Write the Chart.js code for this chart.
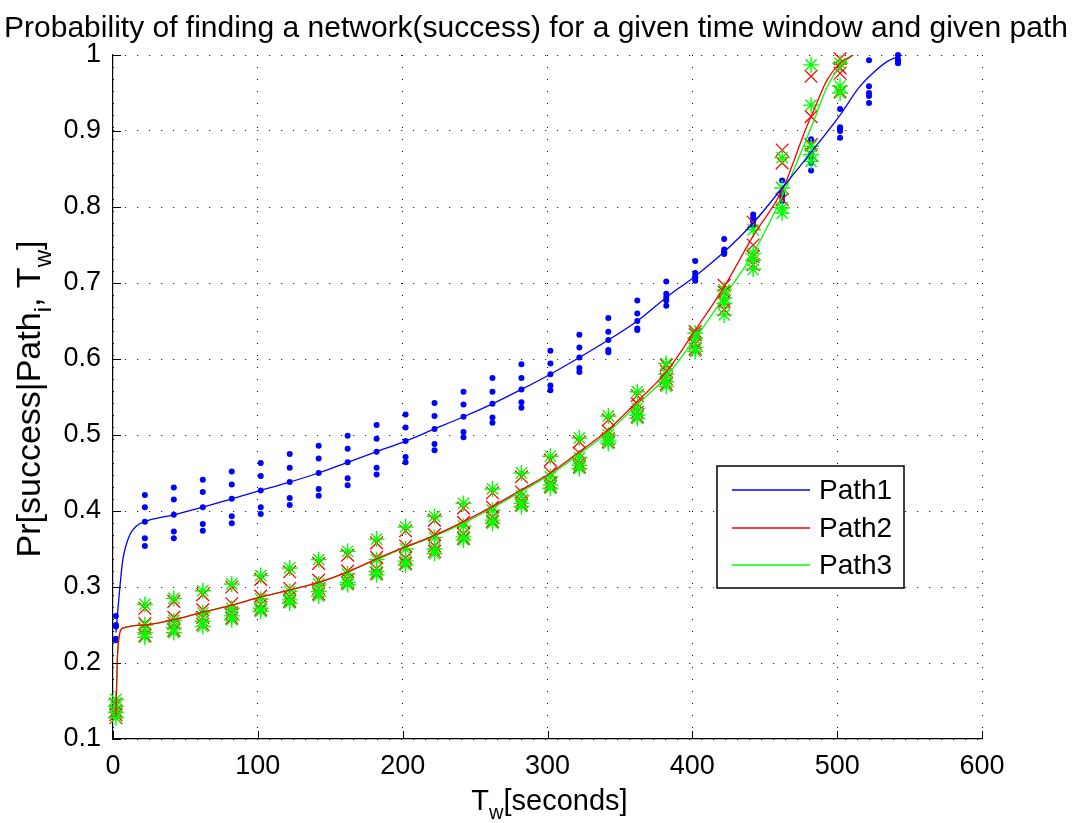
<!DOCTYPE html>
<html>
<head>
<meta charset="utf-8">
<script src="https://cdn.jsdelivr.net/npm/chart.js@4"></script>
<style>
  html, body { margin: 0; padding: 0; background: #fff; }
  canvas { display: block; }
</style>
</head>
<body>
<canvas id="probChart" width="1072" height="823"></canvas>
<script>
// time windows where each path was measured
const path1T = [2, 22, 42, 62, 82, 102, 122, 142, 162, 182, 202, 222, 242, 262, 282,
                302, 322, 342, 362, 382, 402, 422, 442, 462, 482, 502, 522, 542];
const path23T = [2, 22, 42, 62, 82, 102, 122, 142, 162, 182, 202, 222, 242, 262, 282,
                 302, 322, 342, 362, 382, 402, 422, 442, 462, 482, 502];

// measured success rates, one list of runs per time window
const path1Samples = [
    [0.262, 0.250, 0.248, 0.232, 0.230],
    [0.421, 0.405, 0.386, 0.364, 0.354],
    [0.431, 0.415, 0.395, 0.373, 0.364],
    [0.441, 0.425, 0.405, 0.383, 0.374],
    [0.452, 0.435, 0.416, 0.393, 0.384],
    [0.463, 0.446, 0.427, 0.405, 0.396],
    [0.475, 0.457, 0.438, 0.417, 0.408],
    [0.486, 0.469, 0.450, 0.429, 0.420],
    [0.499, 0.482, 0.464, 0.443, 0.434],
    [0.513, 0.495, 0.478, 0.457, 0.448],
    [0.527, 0.510, 0.492, 0.471, 0.464],
    [0.542, 0.525, 0.508, 0.488, 0.480],
    [0.557, 0.540, 0.524, 0.504, 0.497],
    [0.575, 0.557, 0.541, 0.523, 0.516],
    [0.593, 0.575, 0.560, 0.543, 0.536],
    [0.611, 0.594, 0.580, 0.565, 0.559],
    [0.632, 0.615, 0.602, 0.588, 0.583],
    [0.654, 0.636, 0.625, 0.612, 0.609],
    [0.677, 0.660, 0.650, 0.640, 0.638],
    [0.702, 0.686, 0.681, 0.677, 0.670],
    [0.729, 0.713, 0.709, 0.707, 0.703],
    [0.758, 0.744, 0.741, 0.740, 0.738],
    [0.790, 0.786, 0.783, 0.781, 0.776],
    [0.835, 0.818, 0.815, 0.813, 0.808],
    [0.889, 0.870, 0.865, 0.858, 0.848],
    [0.929, 0.905, 0.902, 0.900, 0.891],
    [0.993, 0.959, 0.950, 0.946, 0.937],
    [1.000, 0.994, 0.992, 0.990, 0.989]
];
const path2Samples = [
    [0.146, 0.137, 0.132, 0.128],
    [0.272, 0.252, 0.245, 0.236],
    [0.281, 0.260, 0.252, 0.243],
    [0.290, 0.270, 0.260, 0.251],
    [0.300, 0.278, 0.266, 0.259],
    [0.310, 0.288, 0.277, 0.270],
    [0.320, 0.298, 0.287, 0.281],
    [0.331, 0.309, 0.298, 0.291],
    [0.342, 0.321, 0.310, 0.305],
    [0.358, 0.339, 0.324, 0.318],
    [0.374, 0.354, 0.338, 0.331],
    [0.388, 0.369, 0.354, 0.347],
    [0.404, 0.385, 0.370, 0.364],
    [0.424, 0.405, 0.392, 0.386],
    [0.445, 0.425, 0.413, 0.408],
    [0.467, 0.450, 0.437, 0.432],
    [0.491, 0.476, 0.463, 0.458],
    [0.520, 0.505, 0.495, 0.491],
    [0.552, 0.541, 0.530, 0.524],
    [0.592, 0.584, 0.574, 0.567],
    [0.636, 0.632, 0.620, 0.613],
    [0.697, 0.688, 0.676, 0.665],
    [0.780, 0.750, 0.735, 0.724],
    [0.875, 0.858, 0.825, 0.810],
    [0.972, 0.919, 0.882, 0.869],
    [0.983, 0.976, 0.952, 0.995]
];
const path3Samples = [
    [0.152, 0.143, 0.135, 0.128],
    [0.277, 0.250, 0.240, 0.234],
    [0.285, 0.256, 0.246, 0.240],
    [0.295, 0.266, 0.255, 0.248],
    [0.304, 0.272, 0.262, 0.257],
    [0.315, 0.284, 0.272, 0.268],
    [0.325, 0.294, 0.283, 0.279],
    [0.336, 0.304, 0.294, 0.288],
    [0.347, 0.317, 0.306, 0.303],
    [0.363, 0.336, 0.320, 0.316],
    [0.379, 0.350, 0.334, 0.329],
    [0.393, 0.365, 0.350, 0.344],
    [0.410, 0.380, 0.366, 0.362],
    [0.429, 0.401, 0.388, 0.384],
    [0.450, 0.420, 0.410, 0.406],
    [0.472, 0.445, 0.434, 0.430],
    [0.496, 0.470, 0.460, 0.456],
    [0.525, 0.500, 0.492, 0.489],
    [0.557, 0.535, 0.526, 0.522],
    [0.594, 0.580, 0.570, 0.564],
    [0.634, 0.627, 0.615, 0.610],
    [0.691, 0.680, 0.673, 0.658],
    [0.770, 0.739, 0.730, 0.718],
    [0.865, 0.825, 0.799, 0.792],
    [0.987, 0.934, 0.880, 0.869, 0.860],
    [0.989, 0.959, 0.950]
];

// fitted curves
const path1FitT = [2, 3, 5, 6.7, 8.3, 11.7, 16, 22, 42, 62, 82, 102, 122, 142, 162, 182, 202, 222,
                   242, 262, 282, 302, 322, 342, 362, 382, 402, 422, 442, 462, 482, 502, 515, 524, 535, 545];
const path1FitV = [0.240, 0.262, 0.305, 0.335, 0.350, 0.369, 0.380, 0.386, 0.395, 0.405, 0.416, 0.427,
                   0.438, 0.450, 0.464, 0.478, 0.492, 0.508, 0.524, 0.541, 0.560, 0.580, 0.602, 0.625,
                   0.650, 0.681, 0.709, 0.741, 0.779, 0.825, 0.872, 0.921, 0.957, 0.975, 0.992, 1.000];
const path2FitT = [2, 3, 4.5, 7, 22, 42, 62, 82, 102, 122, 142, 162, 182, 202, 222, 242, 262, 282,
                   302, 322, 342, 362, 382, 402, 422, 442, 462, 478, 484, 493, 502, 511];
const path2FitV = [0.130, 0.205, 0.238, 0.246, 0.250, 0.257, 0.267, 0.276, 0.287, 0.296, 0.306, 0.320,
                   0.337, 0.353, 0.368, 0.386, 0.406, 0.428, 0.450, 0.478, 0.507, 0.544, 0.583, 0.638,
                   0.695, 0.762, 0.822, 0.901, 0.928, 0.967, 0.989, 1.000];
const path3FitT = [2, 3, 4.5, 7, 22, 42, 62, 82, 102, 122, 142, 162, 182, 202, 222, 242, 262, 282,
                   302, 322, 342, 362, 382, 402, 422, 442, 463, 484, 493, 502, 511];
const path3FitV = [0.130, 0.205, 0.238, 0.246, 0.250, 0.257, 0.267, 0.276, 0.287, 0.296, 0.306, 0.320,
                   0.336, 0.352, 0.367, 0.384, 0.404, 0.426, 0.448, 0.475, 0.504, 0.540, 0.577, 0.627,
                   0.682, 0.739, 0.818, 0.914, 0.958, 0.985, 1.000];

const xTicks = [0, 100, 200, 300, 400, 500, 600];
const yTicks = [0.1, 0.2, 0.3, 0.4, 0.5, 0.6, 0.7, 0.8, 0.9, 1];

const BLUE = '#0000ff', RED = '#ff0000', GREEN = '#00ff00';
const FONT = '"Liberation Sans", Arial, Helvetica, sans-serif';

function samplePoints(ts, cols) {
    const pts = [];
    ts.forEach((t, i) => cols[i].forEach(v => pts.push({ x: t, y: v })));
    return pts;
}
function curvePoints(ts, vs) {
    return ts.map((t, i) => ({ x: t, y: vs[i] }));
}

// centred text with subscripts, segments: [text, isSub]
function drawRich(ctx, parts, size) {
    const subSize = Math.round(size * 0.7);
    let total = 0;
    parts.forEach(([s, sub]) => {
        ctx.font = (sub ? subSize : size) + 'px ' + FONT;
        total += ctx.measureText(s).width;
    });
    let x = -total / 2;
    parts.forEach(([s, sub]) => {
        ctx.font = (sub ? subSize : size) + 'px ' + FONT;
        ctx.fillText(s, x, sub ? size * 0.32 : 0);
        x += ctx.measureText(s).width;
    });
}

const decorations = {
    id: 'decorations',
    afterDraw(chart) {
        const { ctx, chartArea: ca, scales } = chart;
        ctx.save();
        ctx.fillStyle = '#000';
        ctx.strokeStyle = '#000';

        // inward tick marks
        ctx.lineWidth = 1;
        ctx.beginPath();
        xTicks.forEach(v => {
            const px = Math.round(scales.x.getPixelForValue(v)) + 0.5;
            ctx.moveTo(px, ca.bottom);
            ctx.lineTo(px, ca.bottom - 8);
        });
        yTicks.forEach(v => {
            const py = Math.round(scales.y.getPixelForValue(v)) + 0.5;
            ctx.moveTo(ca.left, py);
            ctx.lineTo(ca.left + 8, py);
        });
        ctx.stroke();

        // title
        ctx.textAlign = 'left';
        ctx.textBaseline = 'alphabetic';
        ctx.font = '30px ' + FONT;
        const title = 'Probability of finding a network(success) for a given time window and given path';
        const tw = ctx.measureText(title).width;
        ctx.fillText(title, chart.width / 2 - tw / 2, 37);

        // x axis label
        ctx.save();
        ctx.translate((ca.left + ca.right) / 2 + 2, 810);
        drawRich(ctx, [['T', false], ['w', true], ['[seconds]', false]], 29);
        ctx.restore();

        // y axis label
        ctx.save();
        ctx.translate(40, (ca.top + ca.bottom) / 2 + 2);
        ctx.rotate(-Math.PI / 2);
        drawRich(ctx, [['Pr[success|Path', false], ['i', true], [', T', false], ['w', true], [']', false]], 34);
        ctx.restore();

        // legend box
        const lx = ca.left + 604, ly = ca.top + 411, lw = 187, lh = 122;
        ctx.fillStyle = '#fff';
        ctx.fillRect(lx, ly, lw, lh);
        ctx.strokeStyle = '#000';
        ctx.lineWidth = 1.5;
        ctx.strokeRect(lx, ly, lw, lh);
        const entries = [['Path1', BLUE], ['Path2', RED], ['Path3', GREEN]];
        ctx.font = '28px ' + FONT;
        ctx.textBaseline = 'middle';
        entries.forEach(([name, col], i) => {
            const y = Math.round(ly + 24 + i * 37.5);
            ctx.strokeStyle = col;
            ctx.lineWidth = 1.5;
            ctx.beginPath();
            ctx.moveTo(lx + 15, y);
            ctx.lineTo(lx + 93, y);
            ctx.stroke();
            ctx.fillStyle = '#000';
            ctx.fillText(name, lx + 102, y + 1);
        });
        ctx.restore();
    }
};

const fitLine = (label, ts, vs, color) => ({
    label: label,
    data: curvePoints(ts, vs),
    showLine: true,
    borderColor: color,
    borderWidth: 1.3,
    pointRadius: 0,
    cubicInterpolationMode: 'monotone',
    order: 0
});

new Chart(document.getElementById('probChart').getContext('2d'), {
    type: 'scatter',
    data: {
        datasets: [
            fitLine('Path1', path1FitT, path1FitV, BLUE),
            fitLine('Path2', path2FitT, path2FitV, RED),
            fitLine('Path3', path3FitT, path3FitV, GREEN),
            {
                label: 'Path3 runs',
                data: samplePoints(path23T, path3Samples),
                pointStyle: 'star',
                pointRadius: 8,
                borderColor: GREEN,
                backgroundColor: GREEN,
                borderWidth: 1.4,
                clip: false,
                order: 3
            },
            {
                label: 'Path2 runs',
                data: samplePoints(path23T, path2Samples),
                pointStyle: 'crossRot',
                pointRadius: 9,
                borderColor: RED,
                backgroundColor: RED,
                borderWidth: 1.3,
                clip: false,
                order: 4
            },
            {
                label: 'Path1 runs',
                data: samplePoints(path1T, path1Samples),
                pointStyle: 'circle',
                pointRadius: 3,
                borderColor: BLUE,
                backgroundColor: BLUE,
                borderWidth: 0,
                clip: false,
                order: 5
            }
        ]
    },
    options: {
        responsive: false,
        animation: false,
        layout: { padding: { top: 55, right: 90, left: 0, bottom: 0 } },
        plugins: {
            legend: { display: false },
            title: { display: false },
            tooltip: { enabled: false }
        },
        scales: {
            x: {
                type: 'linear',
                min: 0,
                max: 600,
                afterFit: s => { s.height = 84; },
                afterBuildTicks: s => { s.ticks = xTicks.map(v => ({ value: v })); },
                ticks: { color: '#000', padding: 11, font: { size: 27, family: FONT } },
                grid: { color: '#000', lineWidth: 1, drawTicks: false },
                border: { display: true, color: '#000', width: 1.2, dash: [1, 11] }
            },
            y: {
                type: 'linear',
                min: 0.1,
                max: 1,
                afterFit: s => { s.width = 113; },
                afterBuildTicks: s => { s.ticks = yTicks.map(v => ({ value: v })); },
                ticks: {
                    color: '#000',
                    padding: 12,
                    font: { size: 27, family: FONT },
                    callback: v => String(Math.round(v * 10) / 10)
                },
                grid: { color: '#000', lineWidth: 1, drawTicks: false },
                border: { display: true, color: '#000', width: 1.2, dash: [1, 11] }
            }
        }
    },
    plugins: [decorations]
});
</script>
</body>
</html>
